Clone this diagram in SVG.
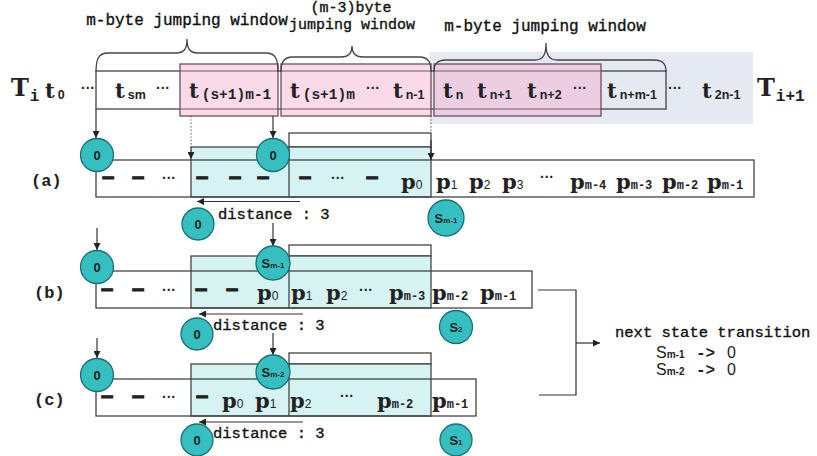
<svg xmlns="http://www.w3.org/2000/svg" width="817" height="456" viewBox="0 0 817 456">
  <defs>
    <marker id="ah" viewBox="0 0 10 10" refX="10" refY="5" markerWidth="7" markerHeight="7" markerUnits="userSpaceOnUse" orient="auto">
      <path d="M0,0 L10,5 L0,10 z" fill="#222"/>
    </marker>
    <style>
      .mono { font-family: "Liberation Mono", "Courier New", monospace; font-weight: bold; fill: #222; }
      .lt { font-weight: normal; fill: #111; stroke: #111; stroke-width: 0.35; }
      .sans { font-family: "Liberation Sans", Arial, sans-serif; fill: #222; }
      .slab { font-family: "DejaVu Serif", "Liberation Serif", serif; font-weight: bold; fill: #222; }
      .head { font-size: 16px; }
      .head2 { font-size: 15px; }
      .T { font-size: 24px; }
      .tt { font-size: 21px; }
      .subS { font-family: "Liberation Sans", Arial, sans-serif; font-weight: bold; font-size: 12.5px; }
      .subM { font-family: "Liberation Mono", "Courier New", monospace; font-weight: bold; font-size: 14.5px; }
      .subI { font-family: "Liberation Mono", "Courier New", monospace; font-weight: bold; font-size: 16px; }
      .pd { font-family: "Liberation Sans", Arial, sans-serif; font-weight: normal; font-size: 12px; }
      .pm { font-family: "Liberation Mono", "Courier New", monospace; font-weight: bold; font-size: 12px; }
      .dash { font-family: "Liberation Sans", Arial, sans-serif; font-weight: bold; font-size: 22px; fill: #222; stroke: #222; stroke-width: 1.2; }
      .dots { font-family: "Liberation Sans", Arial, sans-serif; font-weight: bold; font-size: 14px; fill: #222; }
      .lab { font-size: 17px; }
      .dist { font-size: 15.5px; }
      .strip { fill: none; stroke: #444; stroke-width: 1.3; }
      .stripbg { fill: #fff; stroke: none; }
      .cyan { fill: #d5f3f3; stroke: #444; stroke-width: 1.3; }
      .band { fill: #fff; stroke: #444; stroke-width: 1.3; }
      .pink { fill: #f4aacb; fill-opacity: 0.45; stroke: #6e4f5c; stroke-width: 1.3; }
      .brace { fill: none; stroke: #444; stroke-width: 1.3; }
      .node circle { fill: #36bfc0; stroke: #1d6e70; stroke-width: 1.3; }
      .node text { font-family: "Liberation Sans", Arial, sans-serif; font-weight: bold; font-size: 13px; fill: #222; text-anchor: middle; }
      .node .s { font-size: 8px; }
      .conn line, .conn polyline { fill: none; stroke: #333; stroke-width: 1.2; }
      .conn .dot { stroke: #555; stroke-dasharray: 1.2 2.2; }
      .arr { marker-end: url(#ah); }
    </style>
  </defs>

  <rect width="817" height="456" fill="#fff"/>

  <!-- text stream T_i with its jumping windows -->
  <g id="text-stream">
    <rect x="430" y="52" width="323" height="72" fill="#e5e9f2"/>
    <rect class="strip" x="96" y="71" width="570" height="38"/>
    <rect class="pink" x="180" y="64" width="98" height="52"/>
    <rect class="pink" x="281" y="64" width="150" height="52"/>
    <rect class="pink" x="434" y="64" width="167" height="52"/>

    <path class="brace" d="M96,72 C96,60 98,53 108,53 L176,53 C184,53 187,49 187,39 C187,49 190,53 198,53 L266,53 C276,53 278,60 278,72"/>
    <path class="brace" d="M281,72 C281,63 283,57 293,57 L341,57 C349,57 352,53 352,46 C352,53 355,57 363,57 L419,57 C429,57 431,63 431,72"/>
    <path class="brace" d="M434,72 C434,65 436,60 446,60 L535,60 C543,60 546,55 546,43 C546,55 549,60 557,60 L654,60 C664,60 666,65 666,72"/>

    <text class="mono lt head" x="187" y="25" text-anchor="middle">m-byte jumping window</text>
    <text class="mono lt head2" x="351" y="12" text-anchor="middle">(m-3)byte</text>
    <text class="mono lt head2" x="352" y="29" text-anchor="middle">jumping window</text>
    <text class="mono lt head" x="545" y="31" text-anchor="middle">m-byte jumping window</text>

    <text class="slab T" x="11" y="96">T<tspan class="subI" dx="1" dy="5">i</tspan></text>
    <text class="slab tt" x="45" y="98">t<tspan class="subS" dx="3" dy="1">0</tspan></text>
    <text class="dots" x="81" y="92.5">···</text>
    <text class="slab tt" x="115" y="98">t<tspan class="subS" dx="3" dy="1">sm</tspan></text>
    <text class="dots" x="156" y="92.5">···</text>
    <text class="slab tt" x="189" y="98">t<tspan class="subM" dx="3" dy="1">(s+1)m-1</tspan></text>
    <text class="slab tt" x="290" y="98">t<tspan class="subM" dx="3" dy="1">(s+1)m</tspan></text>
    <text class="dots" x="366" y="92.5">···</text>
    <text class="slab tt" x="393" y="98">t<tspan class="subS" dx="3" dy="1">n-1</tspan></text>
    <text class="slab tt" x="443" y="98">t<tspan class="subS" dx="3" dy="1">n</tspan></text>
    <text class="slab tt" x="477" y="98">t<tspan class="subS" dx="3" dy="1">n+1</tspan></text>
    <text class="slab tt" x="527" y="98">t<tspan class="subS" dx="3" dy="1">n+2</tspan></text>
    <text class="dots" x="573" y="92.5">···</text>
    <text class="slab tt" x="607" y="98">t<tspan class="subS" dx="3" dy="1">n+m-1</tspan></text>
    <text class="dots" x="668" y="92.5">···</text>
    <text class="slab tt" x="702" y="98">t<tspan class="subS" dx="3" dy="1">2n-1</tspan></text>
    <text class="slab T" x="757" y="96">T<tspan class="subI" dx="1" dy="5">i+1</tspan></text>
  </g>

  <!-- row (a) -->
  <g id="row-a">
    <rect class="stripbg" x="96" y="160" width="658" height="37"/>
    <rect class="band" x="289" y="133" width="142" height="14"/>
    <rect class="cyan" x="191" y="147" width="240" height="50"/>
    <line x1="289" y1="147" x2="289" y2="197" stroke="#444" stroke-width="1.3"/>
    <rect class="strip" x="96" y="160" width="658" height="37"/>
    <text class="mono lab" x="31" y="186">(a)</text>
    <text class="dash" x="102" y="183.7">–</text>
    <text class="dash" x="132" y="183.7">–</text>
    <text class="dots" x="162" y="183">···</text>
    <text class="dash" x="196" y="183.7">–</text>
    <text class="dash" x="229" y="183.7">–</text>
    <text class="dash" x="257" y="183.7">–</text>
    <text class="dash" x="299" y="183.7">–</text>
    <text class="dots" x="331" y="183">···</text>
    <text class="dash" x="366" y="183.7">–</text>
    <text class="slab tt" x="401" y="188.5">p<tspan class="pd">0</tspan></text>
    <text class="slab tt" x="436" y="188.5">p<tspan class="pd">1</tspan></text>
    <text class="slab tt" x="469" y="188.5">p<tspan class="pd">2</tspan></text>
    <text class="slab tt" x="502" y="188.5">p<tspan class="pd">3</tspan></text>
    <text class="dots" x="540" y="181.5">···</text>
    <text class="slab tt" x="570" y="188.5">p<tspan class="pm">m-4</tspan></text>
    <text class="slab tt" x="616" y="188.5">p<tspan class="pm">m-3</tspan></text>
    <text class="slab tt" x="662" y="188.5">p<tspan class="pm">m-2</tspan></text>
    <text class="slab tt" x="707" y="188.5">p<tspan class="pm">m-1</tspan></text>
    <text class="mono lt dist" x="218" y="219">distance : 3</text>
  </g>

  <!-- row (b) -->
  <g id="row-b">
    <rect class="stripbg" x="96" y="271" width="436" height="37"/>
    <rect class="band" x="289" y="245" width="142" height="11"/>
    <rect class="cyan" x="191" y="256" width="240" height="52"/>
    <line x1="289" y1="256" x2="289" y2="308" stroke="#444" stroke-width="1.3"/>
    <rect class="strip" x="96" y="271" width="436" height="37"/>
    <text class="mono lab" x="34" y="298">(b)</text>
    <text class="dash" x="101" y="295.7">–</text>
    <text class="dash" x="132" y="295.7">–</text>
    <text class="dots" x="162" y="295">···</text>
    <text class="dash" x="195" y="295.7">–</text>
    <text class="dash" x="226" y="295.7">–</text>
    <text class="slab tt" x="257" y="300">p<tspan class="pd">0</tspan></text>
    <text class="slab tt" x="291" y="300">p<tspan class="pd">1</tspan></text>
    <text class="slab tt" x="326" y="300">p<tspan class="pd">2</tspan></text>
    <text class="dots" x="359" y="294.5">···</text>
    <text class="slab tt" x="389" y="300">p<tspan class="pm">m-3</tspan></text>
    <text class="slab tt" x="432" y="300">p<tspan class="pm">m-2</tspan></text>
    <text class="slab tt" x="480" y="300">p<tspan class="pm">m-1</tspan></text>
    <text class="mono lt dist" x="213" y="330">distance : 3</text>
  </g>

  <!-- row (c) -->
  <g id="row-c">
    <rect class="stripbg" x="96" y="379" width="380" height="37"/>
    <rect class="band" x="289" y="353" width="142" height="11"/>
    <rect class="cyan" x="191" y="364" width="240" height="52"/>
    <line x1="289" y1="364" x2="289" y2="416" stroke="#444" stroke-width="1.3"/>
    <rect class="strip" x="96" y="379" width="380" height="37"/>
    <text class="mono lab" x="34" y="405">(c)</text>
    <text class="dash" x="101" y="402.7">–</text>
    <text class="dash" x="132" y="402.7">–</text>
    <text class="dots" x="162" y="402">···</text>
    <text class="dash" x="196" y="402.7">–</text>
    <text class="slab tt" x="222" y="407.5">p<tspan class="pd">0</tspan></text>
    <text class="slab tt" x="255" y="407.5">p<tspan class="pd">1</tspan></text>
    <text class="slab tt" x="290" y="407.5">p<tspan class="pd">2</tspan></text>
    <text class="dots" x="340" y="401">···</text>
    <text class="slab tt" x="377" y="407.5">p<tspan class="pm">m-2</tspan></text>
    <text class="slab tt" x="432" y="407.5">p<tspan class="pm">m-1</tspan></text>
    <text class="mono lt dist" x="213" y="438">distance : 3</text>
  </g>

  <!-- state transition note -->
  <g id="transition">
    <text class="mono lt dist" x="615" y="337">next state transition</text>
    <text y="358"><tspan class="sans" x="656" font-size="16">S</tspan><tspan class="sans" font-size="10" font-weight="bold">m-1</tspan><tspan class="mono" x="696" font-size="16">-&gt;</tspan><tspan class="sans" x="727" font-size="16">0</tspan></text>
    <text y="375"><tspan class="sans" x="656" font-size="16">S</tspan><tspan class="sans" font-size="10" font-weight="bold">m-2</tspan><tspan class="mono" x="696" font-size="16">-&gt;</tspan><tspan class="sans" x="727" font-size="16">0</tspan></text>
  </g>

  <!-- connectors -->
  <g id="connectors" class="conn">
    <line class="arr" x1="96" y1="109" x2="96" y2="138"/>
    <line class="arr" x1="273" y1="116" x2="273" y2="138"/>
    <line class="dot arr" x1="191" y1="116" x2="191" y2="159"/>
    <line class="dot" x1="431" y1="116" x2="431" y2="133"/>
    <line class="arr" x1="431" y1="140" x2="431" y2="160"/>
    <line class="arr" x1="300" y1="201.5" x2="197" y2="201.5"/>
    <line class="arr" x1="273" y1="223" x2="273" y2="246"/>

    <line class="arr" x1="97" y1="228" x2="97" y2="250"/>
    <line class="arr" x1="303" y1="314" x2="199" y2="314"/>
    <line class="arr" x1="273" y1="333" x2="273" y2="355"/>

    <line class="arr" x1="97" y1="338" x2="97" y2="358"/>
    <line class="arr" x1="303" y1="422" x2="199" y2="422"/>

    <polyline points="538,290 576,290 576,395 539,395"/>
    <line class="arr" x1="576" y1="343" x2="600" y2="343"/>
  </g>

  <!-- state nodes -->
  <g id="a-start" class="node"><circle cx="97" cy="155" r="16.5"/><text x="97" y="159.5">0</text></g>
  <g id="a-window" class="node"><circle cx="273" cy="155" r="16.5"/><text x="273" y="159.5">0</text></g>
  <g id="a-shift" class="node"><circle cx="198" cy="224" r="16"/><text x="198" y="228.5">0</text></g>
  <g id="a-state" class="node"><circle cx="446" cy="218" r="18"/><text x="446" y="222.5">S<tspan class="s">m-1</tspan></text></g>

  <g id="b-start" class="node"><circle cx="97" cy="267" r="16.5"/><text x="97" y="271.5">0</text></g>
  <g id="b-window" class="node"><circle cx="273" cy="263" r="17"/><text x="273" y="267.5">S<tspan class="s">m-1</tspan></text></g>
  <g id="b-shift" class="node"><circle cx="197" cy="334" r="16"/><text x="197" y="338.5">0</text></g>
  <g id="b-state" class="node"><circle cx="456" cy="327" r="16.5"/><text x="456" y="331.5">S<tspan class="s">2</tspan></text></g>

  <g id="c-start" class="node"><circle cx="97" cy="375" r="16.5"/><text x="97" y="379.5">0</text></g>
  <g id="c-window" class="node"><circle cx="273" cy="372" r="17"/><text x="273" y="376.5">S<tspan class="s">m-2</tspan></text></g>
  <g id="c-shift" class="node"><circle cx="197" cy="440" r="16"/><text x="197" y="444.5">0</text></g>
  <g id="c-state" class="node"><circle cx="456" cy="440" r="16"/><text x="456" y="444.5">S<tspan class="s">1</tspan></text></g>
</svg>
